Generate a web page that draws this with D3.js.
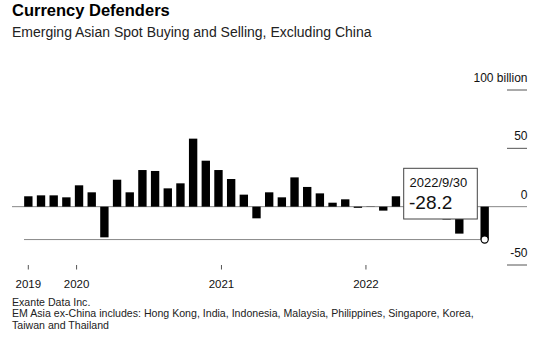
<!DOCTYPE html>
<html>
<head>
<meta charset="utf-8">
<script src="https://cdn.jsdelivr.net/npm/d3@7"></script>
<style>
  body { margin: 0; background: #fff; }
  svg { display: block; font-family: "Liberation Sans", Arial, sans-serif; }
</style>
</head>
<body>
<div id="chart"></div>
<script>
// monthly spot buying (+) / selling (-), billion USD
const months = [
  '2019-09', '2019-10', '2019-11', '2019-12',
  '2020-01', '2020-02', '2020-03', '2020-04', '2020-05', '2020-06',
  '2020-07', '2020-08', '2020-09', '2020-10', '2020-11', '2020-12',
  '2021-01', '2021-02', '2021-03', '2021-04', '2021-05', '2021-06',
  '2021-07', '2021-08', '2021-09', '2021-10', '2021-11', '2021-12',
  '2022-01', '2022-02', '2022-03', '2022-04', '2022-05', '2022-06',
  '2022-07', '2022-08', '2022-09'
];
const flows = [
  8.9, 9.7, 9.7, 8.0,
  18.3, 12.3, -26.3, 23.1, 12.3, 31.4,
  30.6, 15.7, 20.0, 58.3, 39.4, 31.4,
  23.7, 10.3, -10.0, 12.3, 8.0, 25.1,
  16.9, 11.4, 3.4, 6.3, -1.0, 0.2,
  -3.4, 8.9, 5.0, -4.0, 2.0, -11.0,
  -23.1, -7.0, -28.2
];
const yTicks = [100, 50, 0, -50];
const yearTicks = ['2019-09-01', '2020-01-01', '2021-01-01', '2022-01-01'];
const yearLabels = ['2019', '2020', '2021', '2022'];
const lastLabel = '2022/9/30';

const width = 548;
const height = 345;

const svg = d3.select('#chart').append('svg')
  .attr('width', width)
  .attr('height', height);

const x = d3.scaleBand()
  .domain(months)
  .range([22, 491])
  .paddingInner(0.34)
  .paddingOuter(0.17);

const xTime = d3.scaleTime()
  .domain([new Date(2019, 8, 1), new Date(2022, 9, 1)])
  .range([28.3, 474]);

const y = d3.scaleLinear()
  .domain([-50, 100])
  .range([265, 90]);

// titles
svg.append('text')
  .attr('x', 12).attr('y', 16)
  .attr('font-size', 16.5).attr('font-weight', 'bold')
  .attr('fill', '#000')
  .text('Currency Defenders');

svg.append('text')
  .attr('x', 12).attr('y', 37)
  .attr('font-size', 14).attr('fill', '#222')
  .text('Emerging Asian Spot Buying and Selling, Excluding China');

// right axis: short rules with labels above
const yAxis = svg.append('g').attr('class', 'y-axis');
yAxis.selectAll('line')
  .data(yTicks.filter(d => d !== 0))
  .enter().append('line')
  .attr('x1', 507).attr('x2', 527)
  .attr('y1', d => y(d)).attr('y2', d => y(d))
  .attr('stroke', '#555').attr('stroke-width', 1);

yAxis.selectAll('text')
  .data(yTicks)
  .enter().append('text')
  .attr('x', 527.5)
  .attr('y', d => y(d) - 8)
  .attr('text-anchor', 'end')
  .attr('font-size', 12)
  .attr('fill', '#111')
  .text(d => d === 100 ? '100 billion' : d);

// zero line
svg.append('line')
  .attr('x1', 12).attr('x2', 527)
  .attr('y1', y(0)).attr('y2', y(0))
  .attr('stroke', '#888').attr('stroke-width', 1);

// bars
svg.append('g').attr('class', 'bars')
  .selectAll('rect')
  .data(flows)
  .enter().append('rect')
  .attr('x', (d, i) => x(months[i]))
  .attr('width', x.bandwidth())
  .attr('y', d => y(Math.max(0, d)))
  .attr('height', d => Math.abs(y(d) - y(0)))
  .attr('fill', '#000');

// reference line at last value
const lastVal = flows[flows.length - 1];
const lastX = x(months[months.length - 1]) + x.bandwidth() / 2;

svg.append('line')
  .attr('x1', 24).attr('x2', lastX)
  .attr('y1', y(lastVal)).attr('y2', y(lastVal))
  .attr('stroke', '#888').attr('stroke-width', 1);

svg.append('circle')
  .attr('cx', lastX).attr('cy', y(lastVal))
  .attr('r', 3.6)
  .attr('fill', '#fff')
  .attr('stroke', '#000').attr('stroke-width', 1.2);

// annotation box
const box = svg.append('g').attr('class', 'callout');
box.append('rect')
  .attr('x', 403.7).attr('y', 168.3)
  .attr('width', 73.6).attr('height', 50.7)
  .attr('fill', '#fff')
  .attr('stroke', '#444').attr('stroke-width', 1);
box.append('text')
  .attr('x', 409.5).attr('y', 187)
  .attr('font-size', 13).attr('fill', '#111')
  .text(lastLabel);
box.append('text')
  .attr('x', 409).attr('y', 208.5)
  .attr('font-size', 19).attr('fill', '#111')
  .text(lastVal.toFixed(1));

// x axis: year ticks
const parse = d3.timeParse('%Y-%m-%d');
const xAxis = svg.append('g').attr('class', 'x-axis');
xAxis.selectAll('line')
  .data(yearTicks)
  .enter().append('line')
  .attr('x1', d => xTime(parse(d))).attr('x2', d => xTime(parse(d)))
  .attr('y1', 265).attr('y2', 269.5)
  .attr('stroke', '#555').attr('stroke-width', 1);

xAxis.selectAll('text')
  .data(yearTicks)
  .enter().append('text')
  .attr('x', d => xTime(parse(d)))
  .attr('y', 288)
  .attr('text-anchor', 'middle')
  .attr('font-size', 11.5)
  .attr('fill', '#111')
  .text((d, i) => yearLabels[i]);

// footer
const notes = [
  'Exante Data Inc.',
  'EM Asia ex-China includes: Hong Kong, India, Indonesia, Malaysia, Philippines, Singapore, Korea,',
  'Taiwan and Thailand'
];
svg.append('g').attr('class', 'footer')
  .selectAll('text')
  .data(notes)
  .enter().append('text')
  .attr('x', 12)
  .attr('y', (d, i) => 305.5 + i * 11.5)
  .attr('font-size', 10.6)
  .attr('fill', '#222')
  .text(d => d);
</script>
</body>
</html>
